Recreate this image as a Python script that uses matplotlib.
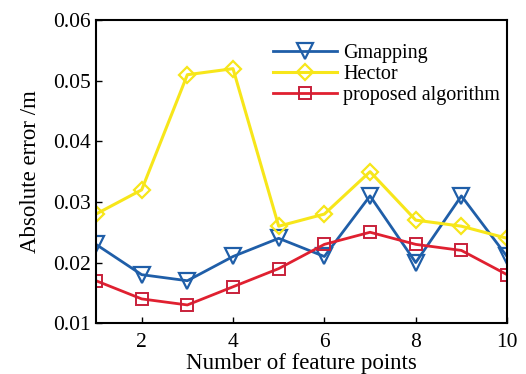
import matplotlib
matplotlib.use("Agg")
import matplotlib.pyplot as plt

# feature point counts
x = [1, 2, 3, 4, 5, 6, 7, 8, 9, 10]

# absolute error (m)
gmapping = [0.023, 0.018, 0.017, 0.021, 0.024, 0.021, 0.031, 0.020, 0.031, 0.021]
hector = [0.028, 0.032, 0.051, 0.052, 0.026, 0.028, 0.035, 0.027, 0.026, 0.024]
proposed = [0.017, 0.014, 0.013, 0.016, 0.019, 0.023, 0.025, 0.023, 0.022, 0.018]

xticks = [2, 4, 6, 8, 10]
yticks = [0.01, 0.02, 0.03, 0.04, 0.05, 0.06]

plt.rcParams['font.family'] = ['Liberation Serif', 'DejaVu Serif']

fig = plt.figure(figsize=(5.26, 3.74), dpi=100)
ax = fig.add_axes([0.1825, 0.136, 0.7815, 0.81])

ax.plot(x, gmapping, color='#1f5ea8', lw=2, marker='v', ms=11, mfc='none',
        mec='#1f5ea8', mew=1.6, label='Gmapping')
ax.plot(x, hector, color='#f7e61a', lw=2.2, marker='D', ms=8, mfc='none',
        mec='#f7e61a', mew=1.6, label='Hector')
ax.plot(x, proposed, color='#e02030', lw=2, marker='s', ms=8, mfc='none',
        mec='#c8203a', mew=1.4, label='proposed algorithm')

ax.set_xlim(1, 10)
ax.set_ylim(0.01, 0.06)
ax.set_xticks(xticks)
ax.set_yticks(yticks)
ax.set_yticklabels(['%.2f' % v for v in yticks])
ax.tick_params(direction='in', labelsize=15.5, length=4, width=1)
ax.tick_params(axis='x', pad=7)
for s in ax.spines.values():
    s.set_linewidth(1.5)

ax.set_xlabel('Number of feature points', fontsize=16.5, labelpad=1)
ax.set_ylabel('Absolute error /m', fontsize=16.5, labelpad=9)

ax.legend(loc='upper left', bbox_to_anchor=(0.405, 0.955), frameon=False,
          fontsize=14.5, handlelength=3.2, handletextpad=0.3, labelspacing=0.1,
          borderpad=0)

fig.savefig('out.png', dpi=100)
